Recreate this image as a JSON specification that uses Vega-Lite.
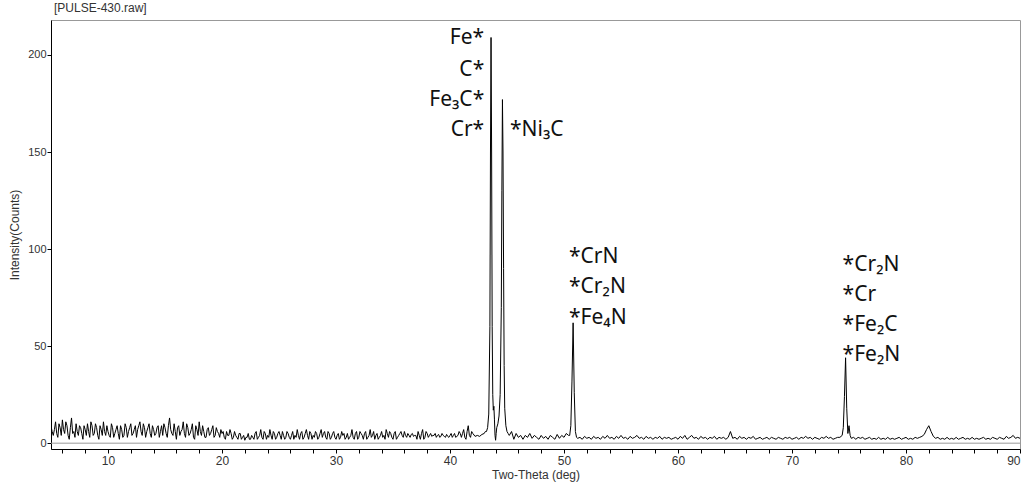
{
  "$schema": "https://vega.github.io/schema/vega-lite/v6.json",
  "width": 969,
  "height": 429,
  "autosize": "none",
  "padding": {"left": 51, "top": 20, "right": 5, "bottom": 45},
  "background": "white",
  "title": {"text": "[PULSE-430.raw]", "anchor": "start", "frame": "group", "fontSize": 12, "fontWeight": "normal", "font": "Liberation Sans", "color": "#333", "offset": 5, "dx": 3},
  "config": {
    "view": {"stroke": "#999", "strokeWidth": 1},
    "axis": {"grid": false, "domainColor": "#000", "tickColor": "#000", "labelFont": "Liberation Sans", "titleFont": "Liberation Sans", "labelFontSize": 11, "titleFontSize": 12, "titleFontWeight": "normal", "labelColor": "#333", "titleColor": "#333", "tickSize": 4},
    "axisX": {"labelOverlap": false, "labelFontSize": 12}
  },
  "datasets": {
    "xrd": [
      {"deg":5.0,"counts":9},{"deg":5.2,"counts":4},{"deg":5.4,"counts":11},{"deg":5.6,"counts":3},{"deg":5.8,"counts":8},{"deg":6.0,"counts":12},{"deg":6.2,"counts":5},{"deg":6.4,"counts":9},{"deg":6.6,"counts":2},{"deg":6.8,"counts":13},
      {"deg":7.0,"counts":6},{"deg":7.2,"counts":10},{"deg":7.4,"counts":4},{"deg":7.6,"counts":8},{"deg":7.8,"counts":2},{"deg":8.0,"counts":7},{"deg":8.2,"counts":10},{"deg":8.4,"counts":3},{"deg":8.6,"counts":9},{"deg":8.8,"counts":5},
      {"deg":9.0,"counts":8},{"deg":9.2,"counts":2},{"deg":9.4,"counts":7},{"deg":9.6,"counts":11},{"deg":9.8,"counts":4},{"deg":10.0,"counts":6},{"deg":10.2,"counts":3},{"deg":10.4,"counts":8},{"deg":10.6,"counts":5},{"deg":10.8,"counts":9},
      {"deg":11.0,"counts":2},{"deg":11.2,"counts":7},{"deg":11.4,"counts":4},{"deg":11.6,"counts":8},{"deg":11.8,"counts":6},{"deg":12.0,"counts":10},{"deg":12.2,"counts":5},{"deg":12.4,"counts":9},{"deg":12.6,"counts":7},{"deg":12.8,"counts":11},
      {"deg":13.0,"counts":4},{"deg":13.2,"counts":8},{"deg":13.4,"counts":6},{"deg":13.6,"counts":10},{"deg":13.8,"counts":3},{"deg":14.0,"counts":7},{"deg":14.2,"counts":5},{"deg":14.4,"counts":9},{"deg":14.6,"counts":6},{"deg":14.8,"counts":4},
      {"deg":15.0,"counts":8},{"deg":15.2,"counts":3},{"deg":15.4,"counts":13},{"deg":15.6,"counts":5},{"deg":15.8,"counts":10},{"deg":16.0,"counts":2},{"deg":16.2,"counts":9},{"deg":16.4,"counts":6},{"deg":16.6,"counts":11},{"deg":16.8,"counts":3},
      {"deg":17.0,"counts":8},{"deg":17.2,"counts":5},{"deg":17.4,"counts":10},{"deg":17.6,"counts":2},{"deg":17.8,"counts":7},{"deg":18.0,"counts":11},{"deg":18.2,"counts":4},{"deg":18.4,"counts":6},{"deg":18.6,"counts":3},{"deg":18.8,"counts":8},
      {"deg":19.0,"counts":5},{"deg":19.2,"counts":9},{"deg":19.4,"counts":4},{"deg":19.6,"counts":6},{"deg":19.8,"counts":3},{"deg":20.0,"counts":5},
      {"deg":20.2,"counts":3},{"deg":20.4,"counts":6},{"deg":20.6,"counts":4},{"deg":20.8,"counts":5},{"deg":21.0,"counts":3},{"deg":21.2,"counts":4},{"deg":21.4,"counts":2},{"deg":21.6,"counts":5},{"deg":21.8,"counts":3},{"deg":22.0,"counts":1.5},
      {"deg":22.2,"counts":3},{"deg":22.4,"counts":2},{"deg":22.6,"counts":4},{"deg":22.8,"counts":2},{"deg":23.0,"counts":6},{"deg":23.2,"counts":3},{"deg":23.4,"counts":7},{"deg":23.6,"counts":2},{"deg":23.8,"counts":5},{"deg":24.0,"counts":4},
      {"deg":24.2,"counts":7},{"deg":24.4,"counts":2},{"deg":24.6,"counts":5},{"deg":24.8,"counts":3},{"deg":25.0,"counts":6},{"deg":25.2,"counts":2},{"deg":25.4,"counts":4},{"deg":25.6,"counts":3},{"deg":25.8,"counts":5},{"deg":26.0,"counts":2},
      {"deg":26.2,"counts":6},{"deg":26.4,"counts":4},{"deg":26.6,"counts":7},{"deg":26.8,"counts":2},{"deg":27.0,"counts":6},{"deg":27.2,"counts":3},{"deg":27.4,"counts":7},{"deg":27.6,"counts":2},{"deg":27.8,"counts":5},{"deg":28.0,"counts":4},
      {"deg":28.2,"counts":6},{"deg":28.4,"counts":2},{"deg":28.6,"counts":5},{"deg":28.8,"counts":3},{"deg":29.0,"counts":6},{"deg":29.2,"counts":2},{"deg":29.4,"counts":5},{"deg":29.6,"counts":3},{"deg":29.8,"counts":6},{"deg":30.0,"counts":2},
      {"deg":30.2,"counts":5},{"deg":30.4,"counts":3},{"deg":30.6,"counts":4},{"deg":30.8,"counts":2},{"deg":31.0,"counts":5},{"deg":31.2,"counts":3},{"deg":31.4,"counts":7},{"deg":31.6,"counts":2},{"deg":31.8,"counts":6},{"deg":32.0,"counts":3},
      {"deg":32.2,"counts":5},{"deg":32.4,"counts":2},{"deg":32.6,"counts":6},{"deg":32.8,"counts":3},{"deg":33.0,"counts":7},{"deg":33.2,"counts":4},{"deg":33.4,"counts":2},{"deg":33.6,"counts":5},{"deg":33.8,"counts":3},{"deg":34.0,"counts":6},
      {"deg":34.2,"counts":4},{"deg":34.4,"counts":7},{"deg":34.6,"counts":3},{"deg":34.8,"counts":5},{"deg":35.0,"counts":2},{"deg":35.2,"counts":6},{"deg":35.4,"counts":3},{"deg":35.6,"counts":5},{"deg":35.8,"counts":4},{"deg":36.0,"counts":6},
      {"deg":36.2,"counts":3},{"deg":36.4,"counts":4},{"deg":36.6,"counts":4.5},{"deg":36.8,"counts":3.5},{"deg":37.0,"counts":4},{"deg":37.2,"counts":6},{"deg":37.4,"counts":2},{"deg":37.6,"counts":7},{"deg":37.8,"counts":3},{"deg":38.0,"counts":5},
      {"deg":38.2,"counts":4},{"deg":38.4,"counts":3.5},{"deg":38.6,"counts":4},{"deg":38.8,"counts":3},{"deg":39.0,"counts":4.5},{"deg":39.2,"counts":3.5},{"deg":39.4,"counts":4},{"deg":39.6,"counts":3},{"deg":39.8,"counts":3.5},{"deg":40.0,"counts":4},
      {"deg":40.2,"counts":3},{"deg":40.4,"counts":5},{"deg":40.6,"counts":3.5},{"deg":40.8,"counts":6},{"deg":41.0,"counts":3},{"deg":41.2,"counts":7},{"deg":41.4,"counts":2},{"deg":41.6,"counts":9},{"deg":41.8,"counts":3},{"deg":42.0,"counts":5},
      {"deg":42.2,"counts":3.5},{"deg":42.4,"counts":4},{"deg":42.6,"counts":3.5},{"deg":42.8,"counts":4.5},{"deg":43.0,"counts":5},{"deg":43.1,"counts":6},{"deg":43.2,"counts":6},{"deg":43.3,"counts":8},{"deg":43.4,"counts":15},{"deg":43.5,"counts":60},
      {"deg":43.55,"counts":150},{"deg":43.6,"counts":209},{"deg":43.65,"counts":150},{"deg":43.7,"counts":60},{"deg":43.75,"counts":25},{"deg":43.8,"counts":17},{"deg":43.85,"counts":19},{"deg":43.9,"counts":12},{"deg":43.95,"counts":4},{"deg":44.0,"counts":1.5},
      {"deg":44.05,"counts":5},{"deg":44.1,"counts":8},{"deg":44.2,"counts":10},{"deg":44.3,"counts":14},{"deg":44.4,"counts":25},{"deg":44.5,"counts":70},{"deg":44.55,"counts":130},{"deg":44.6,"counts":177},{"deg":44.65,"counts":150},{"deg":44.7,"counts":90},
      {"deg":44.75,"counts":40},{"deg":44.8,"counts":18},{"deg":44.9,"counts":9},{"deg":45.0,"counts":6},{"deg":45.1,"counts":5},
      {"deg":45.2,"counts":4},{"deg":45.4,"counts":6},{"deg":45.6,"counts":2},{"deg":45.8,"counts":5},{"deg":46.0,"counts":3},{"deg":46.2,"counts":4},{"deg":46.4,"counts":2},{"deg":46.6,"counts":4},{"deg":46.8,"counts":3},{"deg":47.0,"counts":5},
      {"deg":47.2,"counts":2.5},{"deg":47.4,"counts":4},{"deg":47.6,"counts":3},{"deg":47.8,"counts":2},{"deg":48.0,"counts":4},{"deg":48.2,"counts":2.5},{"deg":48.4,"counts":3.5},{"deg":48.6,"counts":2},{"deg":48.8,"counts":4},{"deg":49.0,"counts":3},
      {"deg":49.2,"counts":2},{"deg":49.4,"counts":4.5},{"deg":49.6,"counts":2.5},{"deg":49.8,"counts":4},{"deg":50.0,"counts":3},{"deg":50.2,"counts":5},{"deg":50.4,"counts":4},
      {"deg":50.5,"counts":4},{"deg":50.6,"counts":9},{"deg":50.7,"counts":32},{"deg":50.8,"counts":62},{"deg":50.9,"counts":26},{"deg":51.0,"counts":6},{"deg":51.1,"counts":3},{"deg":51.2,"counts":2.5},
      {"deg":51.4,"counts":3},{"deg":51.6,"counts":2},{"deg":51.8,"counts":3.5},{"deg":52.0,"counts":2.5},{"deg":52.2,"counts":3},{"deg":52.4,"counts":2},{"deg":52.6,"counts":3.5},{"deg":52.8,"counts":2.5},{"deg":53.0,"counts":3},{"deg":53.2,"counts":2},
      {"deg":53.4,"counts":3.5},{"deg":53.6,"counts":2.5},{"deg":53.8,"counts":4},{"deg":54.0,"counts":2.5},{"deg":54.2,"counts":3},{"deg":54.4,"counts":2},{"deg":54.6,"counts":3.5},{"deg":54.8,"counts":2.5},{"deg":55.0,"counts":4},{"deg":55.2,"counts":2.5},
      {"deg":55.4,"counts":3},{"deg":55.6,"counts":2},{"deg":55.8,"counts":3.5},{"deg":56.0,"counts":2.5},{"deg":56.2,"counts":3},{"deg":56.4,"counts":4},{"deg":56.6,"counts":2.5},{"deg":56.8,"counts":3},{"deg":57.0,"counts":2},{"deg":57.2,"counts":3.5},
      {"deg":57.4,"counts":2.5},{"deg":57.6,"counts":3},{"deg":57.8,"counts":2},{"deg":58.0,"counts":3},{"deg":58.2,"counts":2.5},{"deg":58.4,"counts":3.5},{"deg":58.6,"counts":2},{"deg":58.8,"counts":3},{"deg":59.0,"counts":2.5},{"deg":59.2,"counts":3},
      {"deg":59.4,"counts":2},{"deg":59.6,"counts":2.5},{"deg":59.8,"counts":3},{"deg":60.0,"counts":2},{"deg":60.2,"counts":3.5},{"deg":60.4,"counts":2.5},{"deg":60.6,"counts":4},{"deg":60.8,"counts":2},{"deg":61.0,"counts":3},{"deg":61.2,"counts":4},
      {"deg":61.4,"counts":2.5},{"deg":61.6,"counts":3},{"deg":61.8,"counts":2},{"deg":62.0,"counts":3.5},{"deg":62.2,"counts":2.5},{"deg":62.4,"counts":3},{"deg":62.6,"counts":2},{"deg":62.8,"counts":3},{"deg":63.0,"counts":2.5},{"deg":63.2,"counts":3.5},
      {"deg":63.4,"counts":2},{"deg":63.6,"counts":3},{"deg":63.8,"counts":2.5},{"deg":64.0,"counts":3},{"deg":64.2,"counts":2},{"deg":64.4,"counts":3},{"deg":64.6,"counts":6},{"deg":64.8,"counts":2.5},{"deg":65.0,"counts":3},{"deg":65.2,"counts":2},
      {"deg":65.4,"counts":3.5},{"deg":65.6,"counts":2.5},{"deg":65.8,"counts":3},{"deg":66.0,"counts":2},{"deg":66.2,"counts":3},{"deg":66.4,"counts":2.5},{"deg":66.6,"counts":3.5},{"deg":66.8,"counts":2},{"deg":67.0,"counts":2.5},{"deg":67.2,"counts":3},
      {"deg":67.4,"counts":2},{"deg":67.6,"counts":2.5},{"deg":67.8,"counts":3},{"deg":68.0,"counts":2},{"deg":68.2,"counts":3},{"deg":68.4,"counts":2.5},{"deg":68.6,"counts":2},{"deg":68.8,"counts":3},{"deg":69.0,"counts":2.5},{"deg":69.2,"counts":2},
      {"deg":69.4,"counts":3},{"deg":69.6,"counts":2.5},{"deg":69.8,"counts":3},{"deg":70.0,"counts":2},{"deg":70.2,"counts":2.5},{"deg":70.4,"counts":3},{"deg":70.6,"counts":2},{"deg":70.8,"counts":3},{"deg":71.0,"counts":2.5},{"deg":71.2,"counts":3.5},
      {"deg":71.4,"counts":2.5},{"deg":71.6,"counts":3},{"deg":71.8,"counts":2},{"deg":72.0,"counts":3},{"deg":72.2,"counts":2.5},{"deg":72.4,"counts":2},{"deg":72.6,"counts":3},{"deg":72.8,"counts":2.5},{"deg":73.0,"counts":3.5},{"deg":73.2,"counts":2.5},
      {"deg":73.4,"counts":3},{"deg":73.6,"counts":2},{"deg":73.8,"counts":2.5},{"deg":74.0,"counts":3},{"deg":74.2,"counts":3},{"deg":74.4,"counts":4},
      {"deg":74.5,"counts":8},{"deg":74.6,"counts":24},{"deg":74.7,"counts":44},{"deg":74.8,"counts":18},{"deg":74.9,"counts":5},{"deg":75.0,"counts":9},{"deg":75.1,"counts":4},{"deg":75.2,"counts":2.5},
      {"deg":75.4,"counts":3},{"deg":75.6,"counts":2},{"deg":75.8,"counts":3},{"deg":76.0,"counts":2.5},{"deg":76.2,"counts":3},{"deg":76.4,"counts":2},{"deg":76.6,"counts":2.5},{"deg":76.8,"counts":3},{"deg":77.0,"counts":2},{"deg":77.2,"counts":2.5},
      {"deg":77.4,"counts":2},{"deg":77.6,"counts":3},{"deg":77.8,"counts":2},{"deg":78.0,"counts":2.5},{"deg":78.2,"counts":2},{"deg":78.4,"counts":3},{"deg":78.6,"counts":2},{"deg":78.8,"counts":2.5},{"deg":79.0,"counts":2},{"deg":79.2,"counts":2.5},
      {"deg":79.4,"counts":3},{"deg":79.6,"counts":2},{"deg":79.8,"counts":2.5},{"deg":80.0,"counts":3},{"deg":80.2,"counts":2},{"deg":80.4,"counts":2.5},{"deg":80.6,"counts":2},{"deg":80.8,"counts":3},{"deg":81.0,"counts":2.5},{"deg":81.2,"counts":3},
      {"deg":81.4,"counts":3.5},{"deg":81.6,"counts":4.5},{"deg":81.8,"counts":7},{"deg":82.0,"counts":9},{"deg":82.2,"counts":6},{"deg":82.4,"counts":3.5},{"deg":82.6,"counts":2.5},{"deg":82.8,"counts":3},{"deg":83.0,"counts":2},{"deg":83.2,"counts":2.5},
      {"deg":83.4,"counts":2},{"deg":83.6,"counts":3},{"deg":83.8,"counts":2},{"deg":84.0,"counts":2.5},{"deg":84.2,"counts":2},{"deg":84.4,"counts":3},{"deg":84.6,"counts":2},{"deg":84.8,"counts":2.5},{"deg":85.0,"counts":3},{"deg":85.2,"counts":2},
      {"deg":85.4,"counts":2.5},{"deg":85.6,"counts":2},{"deg":85.8,"counts":3},{"deg":86.0,"counts":2},{"deg":86.2,"counts":2.5},{"deg":86.4,"counts":2},{"deg":86.6,"counts":2.5},{"deg":86.8,"counts":3},{"deg":87.0,"counts":2},{"deg":87.2,"counts":2.5},
      {"deg":87.4,"counts":2},{"deg":87.6,"counts":3},{"deg":87.8,"counts":2.5},{"deg":88.0,"counts":2},{"deg":88.2,"counts":3},{"deg":88.4,"counts":2.5},{"deg":88.6,"counts":2},{"deg":88.8,"counts":3.5},{"deg":89.0,"counts":2.5},{"deg":89.2,"counts":3},
      {"deg":89.4,"counts":4},{"deg":89.6,"counts":2.5},{"deg":89.8,"counts":3},{"deg":90.0,"counts":2.5},
      {"deg":5.1,"counts":6},{"deg":5.3,"counts":7},{"deg":5.5,"counts":5},{"deg":5.7,"counts":10},{"deg":5.9,"counts":4},{"deg":6.1,"counts":7},{"deg":6.3,"counts":11},{"deg":6.5,"counts":4},{"deg":6.7,"counts":8},{"deg":6.9,"counts":5},
      {"deg":7.1,"counts":3},{"deg":7.3,"counts":6},{"deg":7.5,"counts":9},{"deg":7.7,"counts":5},{"deg":7.9,"counts":9},{"deg":8.1,"counts":4},{"deg":8.3,"counts":6},{"deg":8.5,"counts":11},{"deg":8.7,"counts":4},{"deg":8.9,"counts":10},
      {"deg":9.1,"counts":4},{"deg":9.3,"counts":9},{"deg":9.5,"counts":4},{"deg":9.7,"counts":6},{"deg":9.9,"counts":9},{"deg":10.1,"counts":4},{"deg":10.3,"counts":10},{"deg":10.5,"counts":3},{"deg":10.7,"counts":7},{"deg":10.9,"counts":5},
      {"deg":11.1,"counts":9},{"deg":11.3,"counts":3},{"deg":11.5,"counts":10},{"deg":11.7,"counts":3},{"deg":11.9,"counts":8},{"deg":12.1,"counts":4},{"deg":12.3,"counts":7},{"deg":12.5,"counts":3},{"deg":12.7,"counts":9},{"deg":12.9,"counts":6},
      {"deg":13.1,"counts":10},{"deg":13.3,"counts":3},{"deg":13.5,"counts":8},{"deg":13.7,"counts":5},{"deg":13.9,"counts":9},{"deg":14.1,"counts":4},{"deg":14.3,"counts":8},{"deg":14.5,"counts":3},{"deg":14.7,"counts":9},{"deg":14.9,"counts":10},
      {"deg":15.1,"counts":5},{"deg":15.3,"counts":9},{"deg":15.5,"counts":7},{"deg":15.7,"counts":4},{"deg":15.9,"counts":6},{"deg":16.1,"counts":8},{"deg":16.3,"counts":4},{"deg":16.5,"counts":7},{"deg":16.7,"counts":5},{"deg":16.9,"counts":10},
      {"deg":17.1,"counts":4},{"deg":17.3,"counts":7},{"deg":17.5,"counts":3},{"deg":17.7,"counts":9},{"deg":17.9,"counts":4},{"deg":18.1,"counts":6},{"deg":18.3,"counts":9},{"deg":18.5,"counts":3},{"deg":18.7,"counts":7},{"deg":18.9,"counts":4},
      {"deg":19.1,"counts":7},{"deg":19.3,"counts":3},{"deg":19.5,"counts":8},{"deg":19.7,"counts":5},{"deg":19.9,"counts":7},
      {"deg":20.1,"counts":6},{"deg":20.3,"counts":2},{"deg":20.5,"counts":4},{"deg":20.7,"counts":7},{"deg":20.9,"counts":2},{"deg":21.1,"counts":6},{"deg":21.3,"counts":3},{"deg":21.5,"counts":5},{"deg":21.7,"counts":2},{"deg":21.9,"counts":4},
      {"deg":22.1,"counts":3},{"deg":22.3,"counts":5},{"deg":22.5,"counts":2},{"deg":22.7,"counts":3},{"deg":22.9,"counts":5},{"deg":23.1,"counts":2},{"deg":23.3,"counts":4},{"deg":23.5,"counts":3},{"deg":23.7,"counts":6},{"deg":23.9,"counts":2},
      {"deg":24.1,"counts":3},{"deg":24.3,"counts":4},{"deg":24.5,"counts":6},{"deg":24.7,"counts":2},{"deg":24.9,"counts":5},{"deg":25.1,"counts":4},{"deg":25.3,"counts":6},{"deg":25.5,"counts":2},{"deg":25.7,"counts":6},{"deg":25.9,"counts":3},
      {"deg":26.1,"counts":4},{"deg":26.3,"counts":2},{"deg":26.5,"counts":3},{"deg":26.7,"counts":4},{"deg":26.9,"counts":5},{"deg":27.1,"counts":2},{"deg":27.3,"counts":5},{"deg":27.5,"counts":4},{"deg":27.7,"counts":6},{"deg":27.9,"counts":2},
      {"deg":28.1,"counts":3},{"deg":28.3,"counts":5},{"deg":28.5,"counts":3},{"deg":28.7,"counts":7},{"deg":28.9,"counts":5},{"deg":29.1,"counts":3},{"deg":29.3,"counts":6},{"deg":29.5,"counts":2},{"deg":29.7,"counts":5},{"deg":29.9,"counts":3},
      {"deg":30.1,"counts":4},{"deg":30.3,"counts":2},{"deg":30.5,"counts":6},{"deg":30.7,"counts":5},{"deg":30.9,"counts":3},{"deg":31.1,"counts":2},{"deg":31.3,"counts":4},{"deg":31.5,"counts":3},{"deg":31.7,"counts":5},{"deg":31.9,"counts":2},
      {"deg":32.1,"counts":6},{"deg":32.3,"counts":4},{"deg":32.5,"counts":5},{"deg":32.7,"counts":2},{"deg":32.9,"counts":4},{"deg":33.1,"counts":3},{"deg":33.3,"counts":6},{"deg":33.5,"counts":4},{"deg":33.7,"counts":2},{"deg":33.9,"counts":4},
      {"deg":34.1,"counts":3},{"deg":34.3,"counts":2},{"deg":34.5,"counts":5},{"deg":34.7,"counts":6},{"deg":34.9,"counts":3},{"deg":35.1,"counts":5},{"deg":35.3,"counts":2},{"deg":35.5,"counts":4},{"deg":35.7,"counts":6},{"deg":35.9,"counts":3},
      {"deg":36.1,"counts":4},{"deg":36.3,"counts":5},{"deg":36.5,"counts":3},{"deg":36.7,"counts":5},{"deg":36.9,"counts":4},{"deg":37.1,"counts":2},{"deg":37.3,"counts":4},{"deg":37.5,"counts":5},{"deg":37.7,"counts":2},{"deg":37.9,"counts":6},
      {"deg":38.1,"counts":3},{"deg":38.3,"counts":5},{"deg":38.5,"counts":4},{"deg":38.7,"counts":5},{"deg":38.9,"counts":4},{"deg":39.1,"counts":3},{"deg":39.3,"counts":5},{"deg":39.5,"counts":3.5},{"deg":39.7,"counts":4.5},{"deg":39.9,"counts":3},
      {"deg":40.1,"counts":5},{"deg":40.3,"counts":4},{"deg":40.5,"counts":3},{"deg":40.7,"counts":4},{"deg":40.9,"counts":5},{"deg":41.1,"counts":5},{"deg":41.3,"counts":3},{"deg":41.5,"counts":6},{"deg":41.7,"counts":4},{"deg":41.9,"counts":6}
    ],
    "baseline": [
      {"deg": 5, "counts": 0},
      {"deg": 90, "counts": 0}
    ],
    "labelsRight": [
      {"deg": 43.0, "counts": 208.5, "phase": "Fe*"},
      {"deg": 43.0, "counts": 192.5, "phase": "C*"},
      {"deg": 43.0, "counts": 177, "phase": "Fe₃C*"},
      {"deg": 43.0, "counts": 161.5, "phase": "Cr*"}
    ],
    "labelsLeft": [
      {"deg": 45.26, "counts": 161.5, "phase": "*Ni₃C"},
      {"deg": 50.44, "counts": 96, "phase": "*CrN"},
      {"deg": 50.44, "counts": 80.2, "phase": "*Cr₂N"},
      {"deg": 50.44, "counts": 64.7, "phase": "*Fe₄N"},
      {"deg": 74.44, "counts": 91.8, "phase": "*Cr₂N"},
      {"deg": 74.44, "counts": 76.3, "phase": "*Cr"},
      {"deg": 74.44, "counts": 60.8, "phase": "*Fe₂C"},
      {"deg": 74.44, "counts": 45.4, "phase": "*Fe₂N"}
    ]
  },
  "encoding": {
    "x": {"field": "deg", "type": "quantitative", "scale": {"domain": [5, 90], "nice": false, "zero": false},
          "axis": {"title": "Two-Theta (deg)", "values": [6,8,10,12,14,16,18,20,22,24,26,28,30,32,34,36,38,40,42,44,46,48,50,52,54,56,58,60,62,64,66,68,70,72,74,76,78,80,82,84,86,88,90],
                   "labelExpr": "datum.value % 10 === 0 ? datum.label : ''", "labelOverlap": false, "labelPadding": 2, "titlePadding": 3}},
    "y": {"field": "counts", "type": "quantitative", "scale": {"domain": [-3, 218], "nice": false, "zero": false},
          "axis": {"title": "Intensity(Counts)", "values": [0, 50, 100, 150, 200], "labelPadding": 1, "titlePadding": 6}}
  },
  "layer": [
    {
      "data": {"name": "baseline"},
      "mark": {"type": "line", "color": "#999", "strokeWidth": 1}
    },
    {
      "data": {"name": "xrd"},
      "mark": {"type": "line", "color": "#000", "strokeWidth": 1, "clip": true}
    },
    {
      "data": {"name": "labelsRight"},
      "mark": {"type": "text", "align": "right", "baseline": "middle", "font": "Noto Sans", "fontSize": 21, "color": "#111"},
      "encoding": {"text": {"field": "phase"}}
    },
    {
      "data": {"name": "labelsLeft"},
      "mark": {"type": "text", "align": "left", "baseline": "middle", "font": "Noto Sans", "fontSize": 21, "color": "#111"},
      "encoding": {"text": {"field": "phase"}}
    }
  ]
}
